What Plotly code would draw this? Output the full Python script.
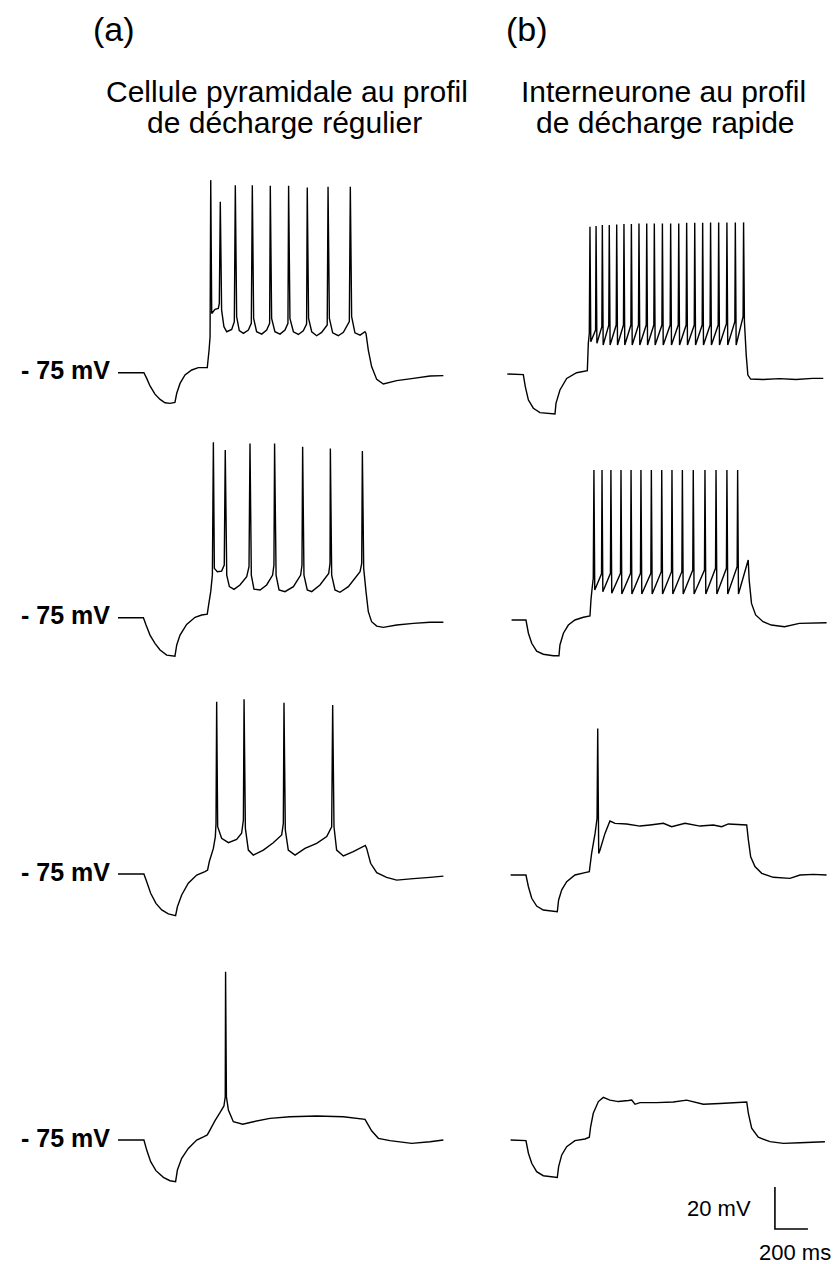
import plotly.graph_objects as go

# ---------------- DATA (time in ms, membrane potential in mV) ----------------
REST_MV = -75
SCALE_MS = 200
SCALE_MV = 20

col_titles = ["(a)", "(b)"]
cell_titles = [["Cellule pyramidale au profil", "de décharge régulier"],
               ["Interneurone au profil", "de décharge rapide"]]
rest_label = "- 75 mV"

# (a) regular-spiking pyramidal cell, 4 current steps (top -> bottom)
t_a1 = [0, 157, 174, 194, 224, 255, 285, 315, 345, 356, 376, 406, 447, 487, 541, 552, 558, 562, 568, 588,
        608, 614, 620, 628, 642, 659, 689, 705, 711, 719, 735, 760, 790, 808, 814, 822, 840, 871, 901, 919,
        923, 931, 951, 982, 1012, 1030, 1034, 1042, 1063, 1093, 1123, 1143, 1147, 1155, 1174, 1204, 1234, 1268,
        1273, 1281, 1301, 1335, 1366, 1402, 1408, 1416, 1436, 1467, 1497, 1503, 1517, 1537, 1568, 1608, 1689,
        1790, 1891, 1972]
v_a1 = [-75, -75, -77.7, -81.3, -85.2, -87.7, -89.3, -89.6, -89.1, -84.8, -80.1, -76.1, -73.7, -72.6, -72.5,
        -64.2, -57.9, 16.7, -46.8, -44.8, -44.4, -42.0, 6.4, -45.2, -53.1, -55.5, -54.4, -50.7, 14.3, -48.3,
        -55.0, -56.3, -54.7, -51.5, 14.3, -49.1, -55.5, -56.6, -54.7, -51.5, 14.0, -49.1, -55.5, -56.6, -54.7,
        -51.5, 14.0, -49.1, -55.5, -56.8, -55.0, -51.8, 13.2, -49.1, -55.5, -57.4, -55.8, -52.3, 13.6, -49.1,
        -56.0, -57.4, -55.8, -50.7, 13.6, -48.3, -56.0, -57.1, -55.5, -56.3, -64.2, -72.1, -78.2, -80.4, -78.8,
        -77.7, -76.6, -76.4]

t_a2 = [0, 154, 170, 194, 224, 255, 295, 345, 356, 376, 416, 467, 507, 541, 549, 562, 572, 578, 584, 602,
        628, 644, 650, 659, 675, 703, 739, 780, 794, 800, 808, 824, 861, 901, 937, 945, 949, 958, 976, 1012,
        1063, 1107, 1115, 1119, 1127, 1147, 1174, 1224, 1277, 1285, 1287, 1295, 1315, 1345, 1396, 1467, 1477,
        1481, 1489, 1503, 1517, 1537, 1568, 1608, 1689, 1790, 1891, 1972]
v_a2 = [-75, -75, -78.5, -83.3, -87.2, -90.4, -92.8, -93.3, -88.0, -83.3, -78.2, -74.8, -73.7, -73.3, -69.0,
        -62.6, -54.7, 8.5, -51.5, -53.1, -52.8, -49.9, 4.8, -54.7, -60.2, -61.5, -59.4, -55.5, -50.7, 8.0,
        -54.7, -61.4, -61.8, -59.4, -54.7, -49.9, 8.0, -54.7, -61.8, -62.6, -60.2, -54.7, -49.9, 6.4, -54.7,
        -61.8, -62.6, -59.4, -53.9, -49.1, 5.6, -54.7, -61.8, -62.9, -60.2, -53.1, -49.1, 4.4, -51.5, -62.6,
        -72.1, -76.9, -79.0, -79.6, -78.5, -77.7, -77.2, -77.2]

t_a3 = [0, 157, 174, 198, 230, 265, 305, 349, 360, 386, 426, 477, 527, 543, 554, 578, 590, 594, 598, 604,
        628, 669, 719, 749, 760, 764, 772, 790, 820, 881, 941, 992, 1002, 1006, 1014, 1032, 1073, 1133, 1204,
        1265, 1295, 1301, 1309, 1325, 1366, 1426, 1499, 1507, 1531, 1568, 1628, 1689, 1790, 1891, 1972]
v_a3 = [-75, -75, -78.7, -84.2, -89.0, -92.1, -94.0, -94.8, -90.6, -85.0, -79.4, -75.5, -73.9, -73.1, -68.9,
        -62.8, -57.2, -50.9, 7.0, -52.5, -58.0, -60.1, -58.5, -55.6, -49.3, 8.2, -53.3, -63.6, -66.0, -63.6,
        -60.1, -56.4, -50.9, 6.6, -54.0, -63.6, -66.0, -62.8, -60.4, -57.2, -52.5, 5.5, -52.5, -63.6, -66.4,
        -64.4, -61.4, -62.8, -69.9, -74.4, -76.6, -77.9, -77.2, -76.6, -76.0]

t_a4 = [0, 157, 174, 198, 230, 275, 315, 349, 360, 386, 426, 477, 521, 541, 558, 588, 618, 642, 650, 652,
        657, 669, 699, 756, 820, 921, 1042, 1204, 1366, 1497, 1511, 1537, 1578, 1648, 1780, 1891, 1972]
v_a4 = [-75, -75, -79.8, -85.3, -89.6, -92.8, -94.4, -94.8, -89.3, -83.7, -79.0, -75.0, -73.4, -72.6, -70.2,
        -65.8, -62.0, -58.8, -54.4, 5.1, -54.4, -60.7, -66.3, -67.5, -66.3, -64.7, -63.9, -63.6, -63.9, -65.2,
        -67.1, -70.6, -74.2, -75.3, -76.6, -75.8, -75.0]

# (b) fast-spiking interneurone
t_b1 = [0, 97, 109, 128, 158, 198, 289, 295, 319, 360, 420, 485, 491, 497,
        501, 506, 535, 538, 543, 573, 576, 581, 615, 618, 623, 660, 663, 668, 704, 707, 712, 749, 752, 757,
        795, 798, 803, 842, 845, 850, 888, 891, 896, 937, 940, 945, 987, 990, 995, 1036, 1039, 1044, 1084,
        1087, 1092, 1133, 1136, 1141, 1181, 1184, 1189, 1229, 1232, 1237, 1278, 1281, 1286, 1328, 1331, 1336,
        1379, 1382, 1387, 1429, 1432, 1437, 1448, 1458, 1475, 1550, 1650, 1750, 1850, 1915]
v_b1 = [-75, -75.3, -81.0, -87.4, -91.3, -93.4, -94.0, -89.0, -82.6, -77.1, -74.4, -73.4, -60.4, -55.6,
        -4.9, -59.6, -54.1, -4.5, -60.4, -52.5, -4.1, -61.2, -51.7, -4.1, -61.2, -51.7, -3.8, -61.2, -51.7,
        -3.6, -61.2, -51.7, -3.6, -61.2, -51.7, -3.3, -61.2, -51.7, -3.3, -61.2, -51.7, -3.3, -61.2, -51.7,
        -3.3, -61.2, -51.7, -3.3, -61.2, -51.7, -3.3, -61.2, -51.7, -3.0, -61.2, -51.7, -3.0, -61.2, -51.7,
        -3.0, -61.2, -51.7, -2.8, -61.2, -51.7, -2.8, -61.2, -51.0, -2.8, -61.2, -50.1, -2.8, -61.2, -47.7,
        -2.8, -50.0, -66.0, -75.5, -77.4, -77.6, -77.2, -77.6, -77.1, -77.1]

t_b2 = [26, 113, 128, 148, 178, 218, 279, 313, 319, 340, 370, 410, 461, 501, 507, 513, 521,
        525, 530, 571, 574, 579, 625, 628, 633, 686, 689, 694, 747, 750, 755, 807, 810, 815, 870, 873, 878,
        933, 936, 941, 995, 998, 1003, 1058, 1061, 1066, 1124, 1127, 1132, 1195, 1198, 1203, 1262, 1265, 1270,
        1328, 1331, 1336, 1393, 1396, 1401, 1460, 1466, 1480, 1505, 1550, 1600, 1680, 1770, 1935]
v_b2 = [-75, -75, -81.3, -86.1, -89.8, -91.3, -92.0, -92.0, -86.9, -81.3, -77.4, -75.0, -73.7, -73.1, -65.5,
        -60.7, -55.0,
        -3.6, -60.7, -53.0, -3.6, -61.5, -52.8, -3.6, -62.3, -52.8, -3.6, -62.6, -52.8, -3.6, -62.6, -52.8,
        -3.6, -62.6, -52.8, -3.6, -62.6, -52.0, -3.6, -62.6, -52.0, -3.6, -62.6, -52.0, -3.6, -62.6, -51.2,
        -3.6, -62.6, -51.2, -3.6, -62.6, -50.4, -3.6, -62.6, -50.4, -3.6, -62.6, -49.6, -3.6, -62.6,
        -46.4, -56.0, -67.1, -72.6, -75.8, -77.4, -78.2, -76.6, -76.3]

t_b3 = [20, 113, 128, 148, 178, 218, 303, 311, 330, 360, 410, 471, 497, 511, 532, 544, 548, 554, 562, 592,
        622, 653, 723, 804, 865, 946, 996, 1077, 1168, 1249, 1299, 1340, 1451, 1461, 1475, 1501, 1542, 1612,
        1713, 1774, 1855, 1935]
v_b3 = [-75, -75, -80.6, -86.1, -89.8, -91.7, -92.5, -86.9, -82.1, -78.2, -75.0, -73.9, -73.4, -64.7, -55.2,
        -48.0, -5.2, -64.7, -63.1, -55.2, -49.3, -50.4, -50.7, -51.7, -51.2, -50.4, -52.0, -50.4, -51.7, -51.2,
        -52.0, -50.7, -51.2, -58.3, -66.3, -71.0, -74.2, -76.1, -76.6, -75.0, -74.7, -75.0]

t_b4 = [20, 113, 128, 148, 178, 218, 303, 311, 330, 360, 410, 471, 497, 505, 521, 552, 582, 622, 673, 734,
        754, 774, 804, 905, 1006, 1087, 1188, 1289, 1451, 1461, 1481, 1521, 1592, 1673, 1774, 1925]
v_b4 = [-75, -75.3, -81.3, -86.1, -90.1, -92.0, -92.8, -87.7, -82.1, -78.2, -75.3, -74.5, -73.7, -68.7, -62.3,
        -56.7, -54.7, -56.0, -56.7, -56.2, -56.0, -58.0, -57.2, -57.2, -56.9, -56.0, -58.0, -57.6, -56.9, -62.3,
        -69.4, -73.7, -75.8, -76.6, -76.3, -75.8]

# ---------------- LAYOUT ----------------
W, H = 838, 1264
PX_PER_MS = 33 / 200   # horizontal scale (from the scale bar)
PX_PER_MV = 42 / 20    # vertical scale (from the scale bar)
FONT = "Liberation Sans, Arial, Helvetica, sans-serif"

# (trace time, trace voltage, x-pixel of t=0, y-pixel of rest potential)
panels = [
    (t_a1, v_a1, 118.0, 372.7),
    (t_a2, v_a2, 118.0, 617.7),
    (t_a3, v_a3, 118.0, 874.0),
    (t_a4, v_a4, 118.0, 1140.0),
    (t_b1, v_b1, 507.3, 374.0),
    (t_b2, v_b2, 507.3, 620.0),
    (t_b3, v_b3, 507.3, 875.0),
    (t_b4, v_b4, 507.3, 1140.0),
]

fig = go.Figure()
lay = {}
for i, (t, v, x0, base) in enumerate(panels, start=1):
    xl, xr = x0 - 20, min(x0 + 330, W)
    yt, yb = base - 215, min(base + 110, H)
    sfx = "" if i == 1 else str(i)
    lay["xaxis" + sfx] = dict(domain=[xl / W, xr / W],
                              range=[(xl - x0) / PX_PER_MS, (xr - x0) / PX_PER_MS],
                              visible=False, showgrid=False, zeroline=False, anchor="y" + sfx,
                              fixedrange=True)
    lay["yaxis" + sfx] = dict(domain=[1 - yb / H, 1 - yt / H],
                              range=[REST_MV - (yb - base) / PX_PER_MV, REST_MV + (base - yt) / PX_PER_MV],
                              visible=False, showgrid=False, zeroline=False, anchor="x" + sfx,
                              fixedrange=True)
    n = min(len(t), len(v))
    fig.add_trace(go.Scatter(x=t[:n], y=v[:n], mode="lines", xaxis="x" + sfx, yaxis="y" + sfx,
                             line=dict(color="black", width=1.4, simplify=False),
                             hoverinfo="skip", showlegend=False))

# scale bar (placed in the bottom-right panel's axes)
SB_T0, SB_V0 = 1622, -117.4
fig.add_trace(go.Scatter(x=[SB_T0, SB_T0, SB_T0 + SCALE_MS],
                         y=[SB_V0 + SCALE_MV, SB_V0, SB_V0],
                         mode="lines", xaxis="x8", yaxis="y8",
                         line=dict(color="black", width=1.6), hoverinfo="skip", showlegend=False))

fig.update_layout(**lay)

ann = []
def add_text(text, xpx, ypx, size, xanchor="center", bold=False):
    ann.append(dict(text=("<b>%s</b>" % text) if bold else text, x=xpx / W, y=1 - ypx / H,
                    xref="paper", yref="paper", xanchor=xanchor, yanchor="middle",
                    showarrow=False, font=dict(family=FONT, size=size, color="black")))

add_text(col_titles[0], 113.5, 29, 34)
add_text(col_titles[1], 527, 29, 34)
add_text(cell_titles[0][0], 287, 91, 30)
add_text(cell_titles[0][1], 284, 123, 30)
add_text(cell_titles[1][0], 663, 91, 30)
add_text(cell_titles[1][1], 665, 123, 30)

# resting-potential labels, anchored on each left trace's -75 mV level
for i in range(1, 5):
    sfx = "" if i == 1 else str(i)
    ann.append(dict(text="<b>%s</b>" % rest_label, x=112 / W, xref="paper", xanchor="right",
                    y=REST_MV, yref="y" + sfx, yanchor="middle", yshift=2.5, showarrow=False,
                    font=dict(family=FONT, size=25, color="black")))

add_text("%d mV" % SCALE_MV, 753, 1208, 22, xanchor="right")
add_text("%d ms" % SCALE_MS, 795, 1252, 22)

fig.update_layout(annotations=ann, width=W, height=H, autosize=False,
                  margin=dict(l=0, r=0, t=0, b=0),
                  paper_bgcolor="white", plot_bgcolor="rgba(0,0,0,0)",
                  showlegend=False)

fig.write_html("out.html", config={"displayModeBar": False, "staticPlot": True},
               post_script="document.body.style.margin='0px';document.body.style.overflow='hidden';")
